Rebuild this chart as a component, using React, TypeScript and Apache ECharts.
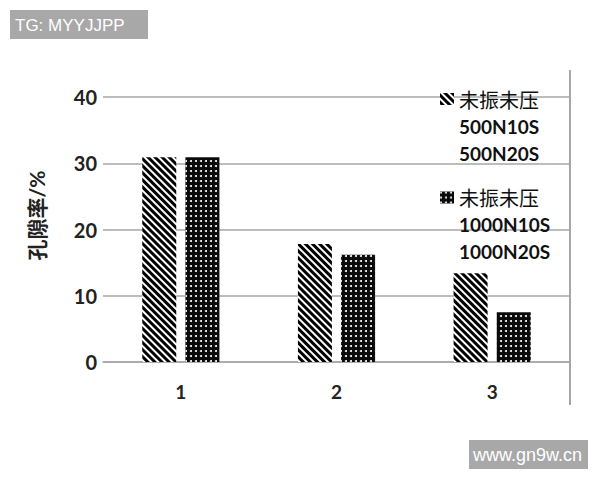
import React, { useEffect, useRef } from 'react';
import * as echarts from 'echarts';

const categories = ['1', '2', '3'];
const seriesNames = ['未振未压\n500N10S\n500N20S', '未振未压\n1000N10S\n1000N20S'];
const hatchedValues = [30.9, 17.8, 13.4];
const dottedValues = [30.9, 16.2, 7.5];
const yMin = 0;
const yMax = 40;
const yStep = 10;
const axisName = '孔隙率/%';
const marks = ['TG: MYYJJPP', 'www.gn9w.cn'];

const FONT = 'Lato, "Noto Sans CJK SC", sans-serif';

const App: React.FC = () => {
  const chartRef = useRef<HTMLDivElement>(null);

  useEffect(() => {
    document.body.style.margin = '0';
    if (!chartRef.current) return;
    const chart = echarts.init(chartRef.current, null, { renderer: 'svg' });

    const option: any = {
      animation: false,
      backgroundColor: '#fff',
      textStyle: { fontFamily: FONT },
      grid: { left: 103, right: 30, top: 97, bottom: 118 },
      legend: {
        orient: 'vertical',
        left: 435,
        top: 84,
        itemWidth: 14,
        itemHeight: 12,
        itemGap: 25,
        icon: 'rect',
        formatter: (name: string) =>
          name
            .split('\n')
            .map((s, i) => (i === 0 ? `{cn|${s}}` : `{en|${s}}`))
            .join('\n'),
        textStyle: {
          padding: [54, 0, 0, 0],
          rich: {
            cn: { fontSize: 20, lineHeight: 27, color: '#111', fontFamily: '"Noto Sans CJK SC"' },
            en: { fontSize: 19, lineHeight: 27, color: '#111', fontWeight: 'bold', fontFamily: FONT }
          }
        }
      },
      xAxis: {
        type: 'category',
        data: categories,
        axisLine: { lineStyle: { color: '#a6a6a6', width: 1.5 } },
        axisTick: { show: false },
        axisLabel: { color: '#222', fontSize: 19, fontWeight: 'bold', margin: 20 }
      },
      yAxis: {
        type: 'value',
        min: yMin,
        max: yMax,
        interval: yStep,
        name: axisName,
        nameLocation: 'middle',
        nameGap: 56,
        nameTextStyle: { color: '#222', fontSize: 21, fontWeight: 'bold', padding: [0, 0, 0, 28] },
        axisLine: { show: false },
        axisTick: { show: false },
        axisLabel: { color: '#222', fontSize: 20, fontWeight: 'bold', margin: 6 },
        splitLine: { lineStyle: { color: '#a6a6a6', width: 1.5 } }
      },
      series: [
        {
          name: seriesNames[0],
          type: 'bar',
          data: hatchedValues,
          barWidth: 34,
          barGap: '27%',
          itemStyle: {
            color: '#fff',
            decal: {
              symbol: 'rect',
              symbolSize: 1,
              color: '#000',
              dashArrayX: [1, 0],
              dashArrayY: [2.4, 1.6],
              rotation: Math.PI / 4
            }
          }
        },
        {
          name: seriesNames[1],
          type: 'bar',
          data: dottedValues,
          barWidth: 34,
          itemStyle: {
            color: '#0a0a0a',
            decal: {
              symbol: 'circle',
              symbolSize: 1,
              color: '#fff',
              dashArrayX: [1.3, 2.7],
              dashArrayY: [1.3, 2.7],
              rotation: 0
            }
          }
        }
      ],
      graphic: [
        { type: 'line', shape: { x1: 570, y1: 70, x2: 570, y2: 405 }, style: { stroke: '#a6a6a6', lineWidth: 2 } },
        { type: 'rect', shape: { x: 10, y: 10, width: 138, height: 29 }, style: { fill: '#a8a8a8' } },
        {
          type: 'text', x: 15, y: 25,
          style: { text: marks[0], fill: '#fff', fontSize: 17, fontFamily: '"Liberation Sans", Arial', verticalAlign: 'middle' }
        },
        { type: 'rect', shape: { x: 469, y: 440, width: 119, height: 29 }, style: { fill: '#a8a8a8' } },
        {
          type: 'text', x: 473, y: 455,
          style: { text: marks[1], fill: '#fff', fontSize: 18, fontFamily: '"Liberation Sans", Arial', verticalAlign: 'middle' }
        }
      ]
    };

    chart.setOption(option);
    const onResize = () => chart.resize();
    window.addEventListener('resize', onResize);
    return () => {
      window.removeEventListener('resize', onResize);
      chart.dispose();
    };
  }, []);

  return <div ref={chartRef} style={{ width: 600, height: 480 }} />;
};

export default App;
